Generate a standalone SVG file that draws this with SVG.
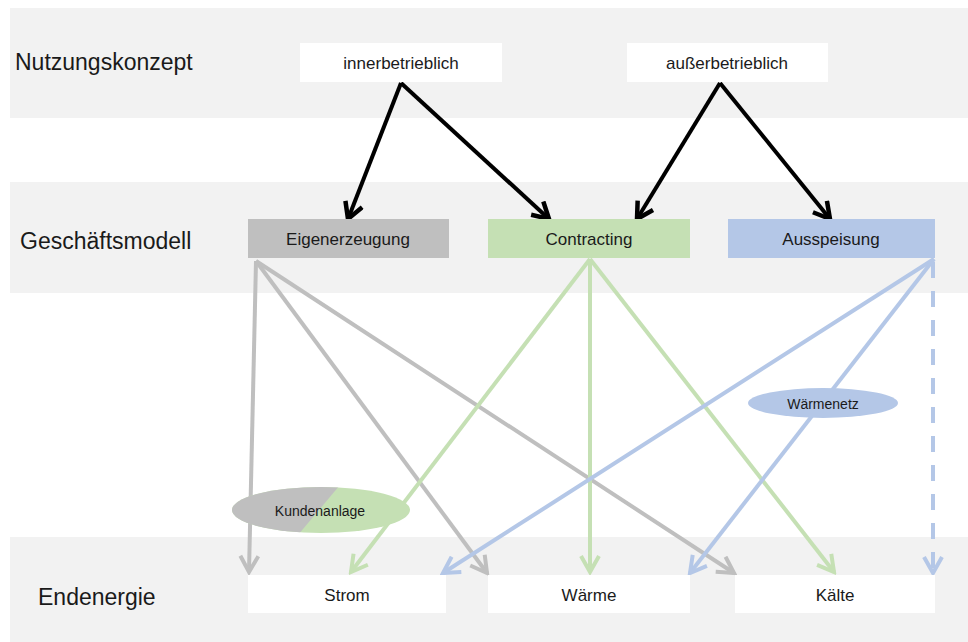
<svg xmlns="http://www.w3.org/2000/svg" width="968" height="642" viewBox="0 0 968 642">
<defs>
<style>
.band{fill:#f2f2f2}
.box{fill:#ffffff}
.t{font-family:"Liberation Sans",Arial,sans-serif;fill:#1a1a1a;text-anchor:middle;dominant-baseline:central}
.lbl{font-family:"Liberation Sans",Arial,sans-serif;fill:#1a1a1a;font-size:23px;dominant-baseline:central}
.bk{stroke:#000;stroke-width:4;fill:none;marker-end:url(#mk)}
.gr{stroke:#bfbfbf;stroke-width:4;fill:none;marker-end:url(#mg)}
.gn{stroke:#c5e0b4;stroke-width:4;fill:none;marker-end:url(#mn)}
.bl{stroke:#b4c7e7;stroke-width:4;fill:none;marker-end:url(#mb)}
</style>
<marker id="mk" viewBox="0 0 22 22" refX="19" refY="11" markerWidth="22" markerHeight="22" markerUnits="userSpaceOnUse" orient="auto"><path d="M3,2 L19,11 L3,20" fill="none" stroke="#000" stroke-width="4.5"/></marker>
<marker id="mg" viewBox="0 0 22 22" refX="19" refY="11" markerWidth="22" markerHeight="22" markerUnits="userSpaceOnUse" orient="auto"><path d="M3,2 L19,11 L3,20" fill="none" stroke="#bfbfbf" stroke-width="4"/></marker>
<marker id="mn" viewBox="0 0 22 22" refX="19" refY="11" markerWidth="22" markerHeight="22" markerUnits="userSpaceOnUse" orient="auto"><path d="M3,2 L19,11 L3,20" fill="none" stroke="#c5e0b4" stroke-width="4"/></marker>
<marker id="mb" viewBox="0 0 22 22" refX="19" refY="11" markerWidth="22" markerHeight="22" markerUnits="userSpaceOnUse" orient="auto"><path d="M3,2 L19,11 L3,20" fill="none" stroke="#b4c7e7" stroke-width="4"/></marker>
<clipPath id="kc"><ellipse cx="321" cy="510" rx="89" ry="23"/></clipPath>
</defs>
<rect width="968" height="642" fill="#ffffff"/>
<g id="bands">
<rect class="band" x="10" y="8" width="958" height="110"/>
<rect class="band" x="10" y="182" width="958" height="111"/>
<rect class="band" x="10" y="537" width="958" height="105"/>
<text class="lbl" x="15" y="62">Nutzungskonzept</text>
<text class="lbl" x="20" y="241">Geschäftsmodell</text>
<text class="lbl" x="38" y="597">Endenergie</text>
</g>
<g id="connectors">
<line class="bk" x1="401" y1="83" x2="348" y2="219"/>
<line class="bk" x1="401" y1="83" x2="549" y2="219"/>
<line class="bk" x1="720" y1="83" x2="637" y2="219"/>
<line class="bk" x1="720" y1="83" x2="830" y2="219"/>
<line class="gr" x1="256" y1="261" x2="249" y2="572"/>
<line class="gr" x1="256" y1="261" x2="487" y2="573"/>
<line class="gr" x1="256" y1="261" x2="734" y2="573"/>
<line class="gn" x1="590" y1="259" x2="351" y2="572"/>
<line class="gn" x1="590" y1="259" x2="590" y2="572"/>
<line class="gn" x1="590" y1="259" x2="834" y2="572"/>
<line class="bl" x1="934" y1="259" x2="443" y2="573"/>
<line class="bl" x1="934" y1="259" x2="690" y2="573"/>
<line class="bl" x1="933" y1="262" x2="933" y2="573" stroke-dasharray="16 13"/>
</g>
<g id="innerbetrieblich"><rect class="box" x="300" y="43" width="202" height="39"/><text class="t" x="401" y="63" font-size="17">innerbetrieblich</text></g>
<g id="ausserbetrieblich"><rect class="box" x="627" y="43" width="201" height="39"/><text class="t" x="727" y="63" font-size="17">außerbetrieblich</text></g>
<g id="eigenerzeugung"><rect x="248" y="219" width="201" height="39" fill="#bfbfbf"/><text class="t" x="348" y="239" font-size="17">Eigenerzeugung</text></g>
<g id="contracting"><rect x="488" y="219" width="202" height="39" fill="#c5e0b4"/><text class="t" x="589" y="239" font-size="17">Contracting</text></g>
<g id="ausspeisung"><rect x="728" y="219" width="207" height="39" fill="#b4c7e7"/><text class="t" x="831" y="239" font-size="17">Ausspeisung</text></g>
<g id="strom"><rect class="box" x="248" y="575" width="198" height="38"/><text class="t" x="347" y="595" font-size="17">Strom</text></g>
<g id="waerme"><rect class="box" x="488" y="575" width="202" height="38"/><text class="t" x="589" y="595" font-size="17">Wärme</text></g>
<g id="kaelte"><rect class="box" x="735" y="575" width="200" height="38"/><text class="t" x="835" y="595" font-size="17">Kälte</text></g>
<g id="kundenanlage">
<g clip-path="url(#kc)">
<rect x="230" y="485" width="182" height="50" fill="#c5e0b4"/>
<polygon points="230,485 340,485 298,535 230,535" fill="#bfbfbf"/>
</g>
<text class="t" x="320" y="511" font-size="14">Kundenanlage</text>
</g>
<g id="waermenetz">
<ellipse cx="823" cy="403" rx="75" ry="15" fill="#b4c7e7"/>
<text class="t" x="823" y="404" font-size="14">Wärmenetz</text>
</g>
</svg>
